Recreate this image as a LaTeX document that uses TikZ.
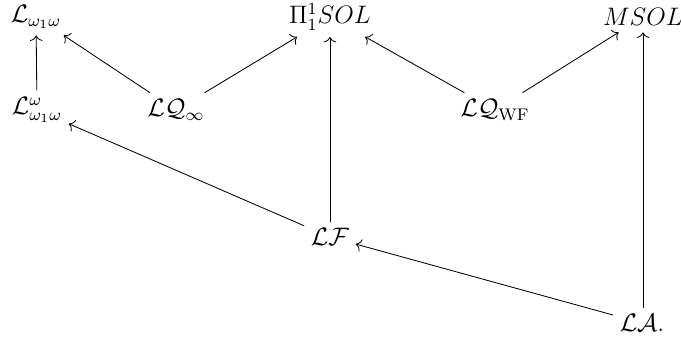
\documentclass[tikz,border=0pt]{standalone}
\usepackage{amssymb}
\usepackage{amsmath}
\usepackage{tikz}
\usetikzlibrary{positioning,arrows.meta}
\tikzset{
    logic/.style={inner sep=3pt, font=\large},
    incl/.style={-{To[length=2.6pt,width=6pt]}, thin}
}

\begin{document}
\begin{tikzpicture}[x=0.0167cm, y=-0.0167cm]
    \useasboundingbox (0,0) rectangle (681,339);
    \node[logic] (lww) at (36,17) {$\mathcal{L}_{\omega_1\omega}$};
    \node[logic] (pi) at (330,17) {$\Pi^1_1 SOL$};
    \node[logic] (msol) at (643,17) {$MSOL$};
    \node[logic] (lwwo) at (37,110) {$\mathcal{L}^{\omega}_{\omega_1\omega}$};
    \node[logic] (lqinf) at (176,110) {$\mathcal{L}\mathcal{Q}_\infty$};
    \node[logic] (lqwf) at (495,110) {$\mathcal{L}\mathcal{Q}_{\mathrm{WF}}$};
    \node[logic] (lf) at (330,237) {$\mathcal{L}\mathcal{F}$};
    \node[logic] (la) at (642,323) {$\mathcal{L}\mathcal{A}.$};

    \draw[incl] (lwwo) -- (lww);
    \draw[incl] (lqinf) -- (lww);
    \draw[incl] (lqinf) -- (pi);
    \draw[incl] (lf) -- (pi);
    \draw[incl] (lqwf) -- (pi);
    \draw[incl] (lqwf) -- (msol);
    \draw[incl] (lf) -- (lwwo);
    \draw[incl] (la) -- (lf);
    \draw[incl] (la.north -| msol) -- (msol);

\end{tikzpicture}
\end{document}
